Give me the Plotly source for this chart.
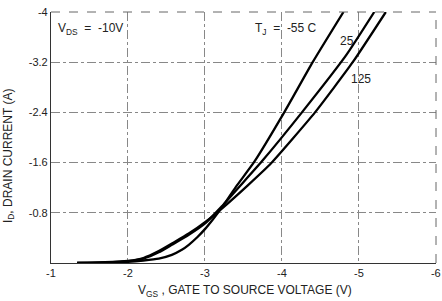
import plotly.graph_objects as go

# Gate voltage (V) and drain current (A)
vgs_m55 = [-1.34, -1.70, -2.00, -2.20, -2.40, -2.57, -2.70, -2.79, -2.90, -3.00, -3.10, -3.20, -3.40, -3.64, -4.03, -4.40, -4.80]
id_m55 = [0.0, -0.005, -0.02, -0.04, -0.07, -0.13, -0.21, -0.29, -0.41, -0.54, -0.69, -0.85, -1.21, -1.61, -2.40, -3.20, -4.00]

vgs_25 = [-1.34, -1.70, -2.00, -2.20, -2.40, -2.57, -2.79, -3.01, -3.21, -3.45, -3.74, -4.26, -4.84, -5.20]
id_25 = [0.0, -0.01, -0.03, -0.07, -0.17, -0.29, -0.45, -0.64, -0.89, -1.22, -1.62, -2.40, -3.32, -4.00]

vgs_125 = [-1.34, -1.70, -2.00, -2.20, -2.40, -2.57, -2.79, -3.01, -3.25, -3.55, -3.86, -4.43, -4.92, -5.35]
id_125 = [0.0, -0.012, -0.035, -0.08, -0.19, -0.31, -0.47, -0.66, -0.90, -1.23, -1.59, -2.40, -3.20, -4.00]

x_ticks = [-1, -2, -3, -4, -5, -6]
x_tick_text = ["-1", "-2", "-3", "-4", "-5", "-6"]
y_ticks = [-0.8, -1.6, -2.4, -3.2, -4]
y_tick_text = ["-0.8", "-1.6", "-2.4", "-3.2", "-4"]

FONT = "Liberation Sans, Arial, sans-serif"

fig = go.Figure()
for xs, ys, name in [(vgs_m55, id_m55, "-55 C"), (vgs_25, id_25, "25"), (vgs_125, id_125, "125")]:
    fig.add_trace(go.Scatter(x=xs, y=ys, mode="lines", name=name,
                             line=dict(color="black", width=2.3, shape="spline", smoothing=0.5),
                             showlegend=False, hoverinfo="skip"))

fig.update_layout(
    width=442, height=301,
    margin=dict(l=51, r=6, t=12, b=38, autoexpand=False),
    paper_bgcolor="white", plot_bgcolor="white",
    font=dict(family=FONT, size=11, color="#222"),
    xaxis=dict(range=[-1, -6.002], tickvals=x_ticks, ticktext=x_tick_text,
               showgrid=True, gridcolor="#888", griddash="dashdot", gridwidth=1,
               showline=True, linecolor="#333", linewidth=1.2, automargin=False,
               ticks="", zeroline=False, tickfont=dict(size=11, color="#222"),
               ticklabeloverflow="allow"),
    yaxis=dict(range=[0, -4], tickvals=y_ticks, ticktext=y_tick_text,
               showgrid=True, gridcolor="#888", griddash="dashdot", gridwidth=1,
               showline=True, linecolor="#333", linewidth=1.2, automargin=False,
               ticks="", zeroline=False, tickfont=dict(size=11, color="#222"),
               ticklabeloverflow="allow"),
)

# dashed top and right frame
fig.add_shape(type="line", xref="paper", yref="paper", x0=0, x1=1, y0=1, y1=1,
              line=dict(color="#666", width=1, dash="dash"))
fig.add_shape(type="line", xref="paper", yref="paper", x0=1, x1=1, y0=0, y1=1,
              line=dict(color="#666", width=1, dash="dash"))

fig.add_annotation(x=-1.06, y=-3.73, xref="x", yref="y", xanchor="left", yanchor="middle",
                   text="V<sub>DS</sub>  =  -10V", showarrow=False,
                   font=dict(family=FONT, size=12, color="#222"))
fig.add_annotation(x=-3.63, y=-3.73, xref="x", yref="y", xanchor="left", yanchor="middle",
                   text="T<sub>J</sub>  =  -55 C", showarrow=False,
                   font=dict(family=FONT, size=12, color="#222"))
fig.add_annotation(x=-4.85, y=-3.54, xref="x", yref="y", xanchor="center", yanchor="middle",
                   text="25", showarrow=False, font=dict(family=FONT, size=12, color="#222"))
fig.add_annotation(x=-5.03, y=-2.93, xref="x", yref="y", xanchor="center", yanchor="middle",
                   text="125", showarrow=False, font=dict(family=FONT, size=12, color="#222"))

# axis titles
fig.add_annotation(x=0.504, y=-0.072, xref="paper", yref="paper", xanchor="center", yanchor="top",
                   text="V<sub>GS</sub> , GATE TO SOURCE VOLTAGE (V)",
                   showarrow=False, font=dict(family=FONT, size=12, color="#222"))
fig.add_annotation(x=-0.109, y=0.426, xref="paper", yref="paper", xanchor="center", yanchor="middle",
                   textangle=-90, text="I<sub>D</sub>, DRAIN CURRENT (A)",
                   showarrow=False, font=dict(family=FONT, size=12, color="#222"))

# remove the page's default body margin so the figure sits at the window's corner
fig.write_html("out.html", config={"displayModeBar": False},
               post_script="document.body.style.margin='0';")
